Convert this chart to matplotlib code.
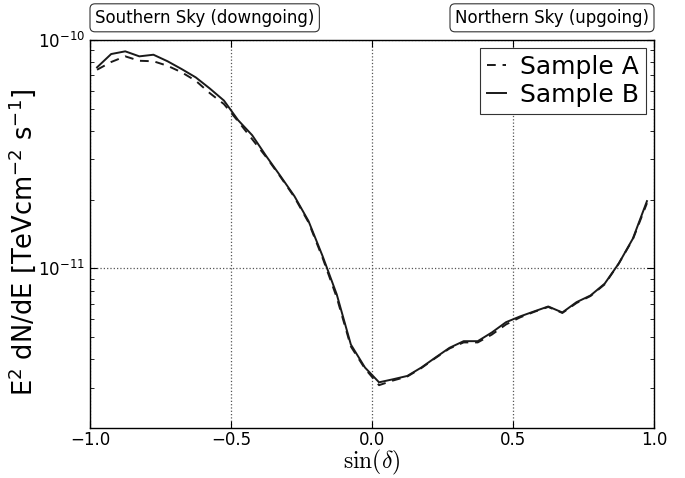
import numpy as np
import matplotlib
matplotlib.use("Agg")
import matplotlib.pyplot as plt

sin_dec = [-0.975, -0.925, -0.875, -0.825, -0.775, -0.725, -0.675, -0.625, -0.575, -0.525,
           -0.475, -0.425, -0.375, -0.325, -0.275, -0.225, -0.175, -0.125, -0.075, -0.025,
           0.025, 0.075, 0.125, 0.175, 0.225, 0.275, 0.325, 0.375, 0.425, 0.475,
           0.525, 0.575, 0.625, 0.675, 0.725, 0.775, 0.825, 0.875, 0.925, 0.975]

sample_a = [7.41e-11, 8.01e-11, 8.48e-11, 8.11e-11, 8.07e-11, 7.71e-11, 7.22e-11, 6.63e-11, 5.85e-11, 5.24e-11,
            4.41e-11, 3.68e-11, 3.07e-11, 2.52e-11, 2.05e-11, 1.59e-11, 1.11e-11, 7.46e-12, 4.55e-12, 3.64e-12,
            3.08e-12, 3.23e-12, 3.36e-12, 3.66e-12, 4.05e-12, 4.46e-12, 4.74e-12, 4.74e-12, 5.13e-12, 5.68e-12,
            6.10e-12, 6.45e-12, 6.78e-12, 6.38e-12, 7.05e-12, 7.57e-12, 8.51e-12, 1.05e-11, 1.34e-11, 1.93e-11]

sample_b = [7.59e-11, 8.68e-11, 8.92e-11, 8.48e-11, 8.62e-11, 8.07e-11, 7.46e-11, 6.86e-11, 6.13e-11, 5.43e-11,
            4.46e-11, 3.83e-11, 3.10e-11, 2.54e-11, 2.07e-11, 1.61e-11, 1.13e-11, 7.69e-12, 4.64e-12, 3.68e-12,
            3.17e-12, 3.27e-12, 3.38e-12, 3.68e-12, 4.07e-12, 4.49e-12, 4.80e-12, 4.80e-12, 5.24e-12, 5.81e-12,
            6.16e-12, 6.48e-12, 6.81e-12, 6.41e-12, 7.11e-12, 7.61e-12, 8.57e-12, 1.05e-11, 1.35e-11, 1.97e-11]

x_ticks = [-1.0, -0.5, 0.0, 0.5, 1.0]
x_ticklabels = ["\u22121.0", "\u22120.5", "0.0", "0.5", "1.0"]

fig = plt.figure(figsize=(6.85, 4.78), dpi=100)
ax = fig.add_axes([90/685, 50/478, 564/685, 388/478])

ax.plot(sin_dec, sample_a, color="#1a1a1a", ls=(0, (4.5, 3.5)), lw=1.4, label="Sample A")
ax.plot(sin_dec, sample_b, color="#1a1a1a", ls="-", lw=1.4, label="Sample B")

ax.set_yscale("log")
ax.set_xlim(-1, 1)
ax.set_ylim(2e-12, 1e-10)
ax.set_xticks(x_ticks)
ax.set_xticklabels(x_ticklabels)
ax.tick_params(which="both", direction="in", top=True, right=True, labelsize=12)
ax.tick_params(which="major", length=5, width=0.8)
ax.tick_params(which="minor", length=3, width=0.6)
ax.tick_params(axis="x", which="major", pad=2.5)
ax.grid(True, which="major", color="#555555", ls=":", lw=0.9)

ax.set_xlabel(r"$\sin(\delta)$", fontsize=17)
ax.xaxis.label.set_math_fontfamily("cm")
ax.xaxis.set_label_coords(0.5, -0.052)
ax.set_ylabel(r"E$^2$ dN/dE [TeVcm$^{-2}$ s$^{-1}$]", fontsize=18.5)
ax.yaxis.set_label_coords(-0.092, 0.478)

leg = ax.legend(loc="upper right", fontsize=18, handlelength=0.75, handletextpad=0.55,
                fancybox=False, borderaxespad=0.3, borderpad=0.3, labelspacing=0.15, framealpha=1)
leg.get_frame().set_edgecolor("#333333")
leg.get_frame().set_linewidth(0.8)

bbox = dict(boxstyle="round,pad=0.3", fc="white", ec="#333333", lw=0.8)
ax.annotate("Southern Sky (downgoing)", xy=(0, 1), xycoords="axes fraction",
            xytext=(3.6, 9.5), textcoords="offset points", fontsize=12,
            ha="left", va="bottom", bbox=bbox)
ax.annotate("Northern Sky (upgoing)", xy=(1, 1), xycoords="axes fraction",
            xytext=(-3.6, 9.5), textcoords="offset points", fontsize=12,
            ha="right", va="bottom", bbox=bbox)

for s in ax.spines.values():
    s.set_linewidth(1.0)

fig.savefig("out.png", dpi=100)
